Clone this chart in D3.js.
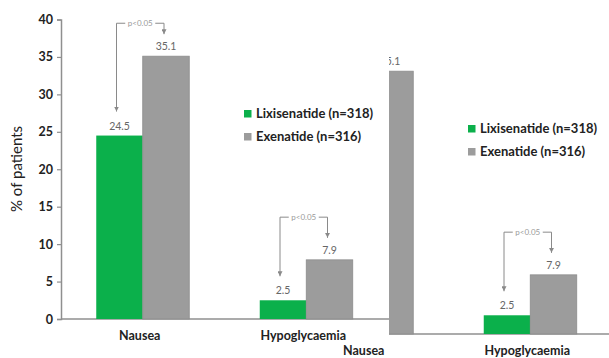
<!DOCTYPE html>
<html>
<head>
<meta charset="utf-8">
<script src="https://cdn.jsdelivr.net/npm/d3@7/dist/d3.min.js"></script>
<style>
  html, body { margin: 0; padding: 0; background: #fff; }
  svg { display: block; font-family: Lato, "Open Sans", sans-serif; }
</style>
</head>
<body>
<svg id="chart" width="609" height="358"></svg>
<script>
// Adverse-event incidence by treatment arm
const categories = ["Nausea", "Hypoglycaemia"];
const seriesNames = ["Lixisenatide (n=318)", "Exenatide (n=316)"];
const lixisenatide = [24.5, 2.5];
const exenatide = [35.1, 7.9];
const yTicks = [0, 5, 10, 15, 20, 25, 30, 35, 40];
const pLabels = ["p<0.05", "p<0.05"];
const bracketLevels = [39.5, 13.6];   // height of each significance bracket, in % units
const colors = ["#0bb04b", "#9c9c9c"];

const svg = d3.select("#chart");

const x = d3.scalePoint().domain(categories).range([61, 388]).padding(0.5);
const xInner = d3.scaleBand().domain([0, 1]).range([-46.5, 46.5]);
const y = d3.scaleLinear().domain([0, 40]).range([319, 19.5]);

const defs = svg.append("defs");
defs.append("marker")
  .attr("id", "arrow").attr("viewBox", "0 0 10 10")
  .attr("refX", 10).attr("refY", 5)
  .attr("markerWidth", 5).attr("markerHeight", 5)
  .attr("markerUnits", "userSpaceOnUse")
  .attr("orient", "auto")
  .append("path").attr("d", "M0,0 L10,5 L0,10 Z").attr("fill", "#8a8a8a");

// opts.dx: horizontal offset of the chart; opts.minX: left edge of the visible pane
function drawChart(g, opts) {
  const dx = opts.dx || 0;
  const minX = opts.minX || 0;
  const visible = px => px + dx >= minX;

  // y axis
  if (visible(61)) {
    const yAxis = g.append("g")
      .attr("transform", "translate(61,0)")
      .call(d3.axisLeft(y).tickValues(yTicks).tickSize(4).tickPadding(4));
    yAxis.select(".domain").attr("stroke", "#8f8f8f").attr("stroke-width", 1.5);
    yAxis.selectAll(".tick line").attr("stroke", "#8f8f8f").attr("stroke-width", 1.2);
    yAxis.selectAll(".tick text")
      .attr("fill", "#222").style("font-size", "12.5px").style("font-weight", "bold")
      .style("font-family", "Lato, sans-serif");

    g.append("text")
      .attr("transform", "translate(22,169) rotate(-90)")
      .attr("text-anchor", "middle")
      .attr("fill", "#222")
      .style("font-size", "15px")
      .text("% of patients");
  }

  // x baseline
  g.append("line")
    .attr("x1", 61).attr("x2", 620)
    .attr("y1", y(0)).attr("y2", y(0))
    .attr("stroke", "#8f8f8f").attr("stroke-width", 1.5);

  const series = [lixisenatide, exenatide];
  series.forEach((vals, s) => {
    g.selectAll(null).data(categories).enter().append("rect")
      .attr("x", d => x(d) + xInner(s))
      .attr("width", xInner.bandwidth())
      .attr("y", (d, i) => y(vals[i]))
      .attr("height", (d, i) => y(0) - y(vals[i]))
      .attr("fill", colors[s])
      .attr("stroke", s === 1 ? "#8c8c8c" : "none")
      .attr("stroke-width", 0.8);

    const centre = d => x(d) + xInner(s) + xInner.bandwidth() / 2;
    g.selectAll(null).data(categories.filter(d => visible(centre(d) + 10))).enter().append("text")
      .attr("x", centre)
      .attr("y", d => y(vals[categories.indexOf(d)]) - 6)
      .attr("text-anchor", "middle")
      .attr("fill", "#666")
      .style("font-size", "10.5px")
      .text(d => vals[categories.indexOf(d)]);
  });

  // significance brackets
  categories.forEach((c, i) => {
    const xl = x(c) + xInner(0) + xInner.bandwidth() / 2 - 3;
    const xr = x(c) + xInner(1) + xInner.bandwidth() / 2 - 2;
    if (!visible(xl)) return;
    const yt = y(bracketLevels[i]);
    const tipL = y(lixisenatide[i]) - 24;
    const tipR = y(exenatide[i]) - 22;
    g.append("path")
      .attr("d", `M${xl},${tipL} L${xl},${yt} L${xr},${yt} L${xr},${tipR}`)
      .attr("fill", "none").attr("stroke", "#8a8a8a").attr("stroke-width", 1)
      .attr("marker-end", "url(#arrow)");
    g.append("path")
      .attr("d", `M${xl},${yt + 10} L${xl},${tipL}`)
      .attr("fill", "none").attr("stroke", "none")
      .attr("marker-end", "url(#arrow)");
    const mx = (xl + xr) / 2;
    g.append("rect")
      .attr("x", mx - 15).attr("y", yt - 4).attr("width", 30).attr("height", 8)
      .attr("fill", "#fff");
    g.append("text")
      .attr("x", mx).attr("y", yt + 3)
      .attr("text-anchor", "middle")
      .attr("fill", "#9a9a9a")
      .style("font-size", "8px")
      .text(pLabels[i]);
  });

  // category labels
  g.selectAll(null).data(categories).enter().append("text")
    .attr("x", d => x(d) - 3)
    .attr("y", y(0) + 21)
    .attr("text-anchor", "middle")
    .attr("fill", "#222")
    .style("font-size", "12.5px").style("font-weight", "bold")
    .text(d => d);

  // legend
  const legend = g.append("g").attr("transform", "translate(244,110)");
  seriesNames.forEach((name, s) => {
    const row = legend.append("g").attr("transform", `translate(0,${s * 23})`);
    row.append("rect").attr("width", 7.5).attr("height", 7.5).attr("fill", colors[s]);
    row.append("text")
      .attr("x", 12).attr("y", 8)
      .attr("fill", "#222")
      .style("font-size", "13px").style("font-weight", "bold")
      .text(name);
  });
}

// primary chart
drawChart(svg.append("g"), {});

// second rendering of the same chart, offset and shown on its own white pane;
// its category labels extend past the pane edge
const paneLeft = 389;
defs.append("clipPath").attr("id", "paneClip")
  .append("path")
  .attr("d", `M${paneLeft},0 H609 V358 H330 V340 H${paneLeft} Z`);

const pane = svg.append("g").attr("clip-path", "url(#paneClip)");
pane.append("rect").attr("x", paneLeft).attr("y", 0).attr("width", 609 - paneLeft).attr("height", 358).attr("fill", "#fff");
drawChart(pane.append("g").attr("transform", "translate(224,15)"), { dx: 224, minX: paneLeft });
</script>
</body>
</html>
